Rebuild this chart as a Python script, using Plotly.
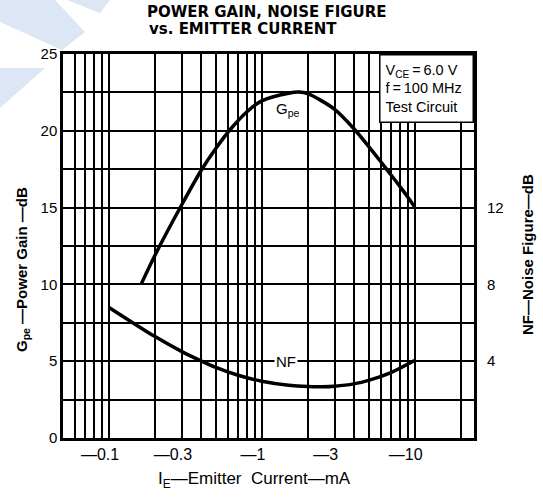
import math
import plotly.graph_objects as go

NEGRO = "#000000"
AZUL_PALIDO = "#DCE6F5"
FUENTE = "Liberation Sans, Arial, sans-serif"
FUENTE_ANCHA = "DejaVu Sans, Verdana, sans-serif"

# Power gain curve (Gpe, dB) vs |IE| (mA)
ie_gpe = [0.163, 0.2, 0.3, 0.4, 0.5, 0.63, 0.8, 1.0, 1.5, 1.75, 2, 3, 4, 5, 6, 7, 8, 9, 10]
gpe_db = [10.05, 11.9, 15.2, 17.4, 18.85, 20.15, 21.24, 21.95, 22.45, 22.52, 22.42,
          21.4, 20.15, 18.99, 18.0, 17.14, 16.39, 15.71, 15.05]

# Noise figure curve (NF, dB) vs |IE| (mA)
ie_nf = [0.1, 0.2, 0.3, 0.4, 0.5, 0.7, 1, 1.5, 2, 2.5, 3, 4, 5, 7, 10]
nf_db = [6.8, 5.28, 4.5, 4.02, 3.68, 3.27, 2.96, 2.75, 2.68, 2.67, 2.7, 2.82, 3.0, 3.41, 4.04]

# log grid positions and labels
x_grid = [0.06, 0.07, 0.08, 0.09,
          0.1, 0.2, 0.3, 0.4, 0.5, 0.6, 0.7, 0.8, 0.9,
          1, 2, 3, 4, 5, 6, 7, 8, 9, 10, 20]
PAD = "\u2007\u2007"
x_labels = {0.1: "\u20140.1" + PAD, 0.3: "\u20140.3" + PAD, 1: "\u20141" + PAD,
            3: "\u20143" + PAD, 10: "\u201410" + PAD}
y_grid = [0, 2.5, 5, 7.5, 10, 12.5, 15, 17.5, 20, 22.5, 25]
nf_ticks = [4, 8, 12]

fig = go.Figure()
fig.add_trace(go.Scatter(
    x=ie_gpe, y=gpe_db, mode="lines",
    line=dict(color=NEGRO, width=3.5, shape="spline", smoothing=0.8),
    showlegend=False,
))
fig.add_trace(go.Scatter(
    x=ie_nf, y=nf_db, mode="lines", yaxis="y2",
    line=dict(color=NEGRO, width=3.5, shape="spline", smoothing=0.8),
    showlegend=False,
))

# pixel -> paper helpers (plot frame in pixels)
L, R, T, B = 63, 474, 54, 438
def px(x, y):
    return (x - L) / (R - L), (B - y) / (B - T)

def path(pts):
    s = ""
    for i, (a, b) in enumerate(pts):
        xp, yp = px(a, b)
        s += ("M" if i == 0 else "L") + f"{xp:.4f},{yp:.4f} "
    return s + "Z"

# pale chevron watermark, top-left
for poly in ([(0, 0), (55, 0), (85, 32), (62, 50), (0, 22)],
             [(0, 68), (45, 68), (0, 108)],
             [(67, 0), (110, 0), (100, 13)]):
    fig.add_shape(type="path", path=path(poly), xref="paper", yref="paper",
                  fillcolor=AZUL_PALIDO, line=dict(width=0), layer="below")

TS = "\u2009"
fig.add_annotation(
    text=f"V<sub>CE</sub>{TS}={TS}6.0 V<br>f{TS}={TS}100 MHz<br>Test Circuit",
    xref="paper", yref="paper", x=1, y=1, xanchor="right", yanchor="top",
    width=82, height=56, showarrow=False, align="left", valign="middle",
    bgcolor="#FFFFFF", bordercolor=NEGRO, borderwidth=1.5, borderpad=5,
    font=dict(size=14.5, color=NEGRO, family=FUENTE),
)
fig.add_annotation(text="G<sub>pe</sub>", x=math.log10(1.48), y=21.4, showarrow=False,
                   bgcolor="#FFFFFF", font=dict(size=15, color=NEGRO, family=FUENTE))
fig.add_annotation(text="NF", x=math.log10(1.43), y=5, showarrow=False,
                   bgcolor="#FFFFFF", font=dict(size=15, color=NEGRO, family=FUENTE))

# second title line, left aligned with the first
x0, y0 = px(147, 29)
fig.add_annotation(text="<b>vs. EMITTER CURRENT</b>", xref="paper", yref="paper",
                   x=x0, y=y0, xanchor="left", yanchor="middle", showarrow=False,
                   font=dict(size=15, color=NEGRO, family=FUENTE_ANCHA))

# axis titles
x0, y0 = px(22, 270)
fig.add_annotation(text="<b>G<sub>pe</sub> \u2014Power Gain \u2014dB</b>", xref="paper", yref="paper",
                   x=x0, y=y0, xanchor="center", yanchor="middle", textangle=-90, showarrow=False,
                   font=dict(size=15, color=NEGRO, family=FUENTE))
x0, y0 = px(527, 255)
fig.add_annotation(text="<b>NF\u2014Noise Figure\u2014dB</b>", xref="paper", yref="paper",
                   x=x0, y=y0, xanchor="center", yanchor="middle", textangle=-90, showarrow=False,
                   font=dict(size=15, color=NEGRO, family=FUENTE))
x0, y0 = px(254, 480)
fig.add_annotation(text="I<sub>E</sub>\u2014Emitter  Current\u2014mA", xref="paper", yref="paper",
                   x=x0, y=y0, xanchor="center", yanchor="middle", showarrow=False,
                   font=dict(size=17, color=NEGRO, family=FUENTE))

fig.update_layout(
    width=543, height=499,
    margin=dict(l=L, r=543 - R, t=T, b=499 - B, autoexpand=False),
    plot_bgcolor="#FFFFFF", paper_bgcolor="#FFFFFF",
    font=dict(family=FUENTE, color=NEGRO, size=15),
    title=dict(
        text="<b>POWER GAIN, NOISE FIGURE</b>",
        x=px(147, 0)[0], xref="paper", xanchor="left", y=1 - 12 / 499, yanchor="middle",
        font=dict(size=15, color=NEGRO, family=FUENTE_ANCHA),
    ),
    xaxis=dict(
        type="log", range=[math.log10(0.05), math.log10(24.5)],
        tickvals=x_grid, ticktext=[x_labels.get(v, "") for v in x_grid],
        showgrid=True, gridcolor=NEGRO, gridwidth=1.6, automargin=False,
        showline=True, linecolor=NEGRO, linewidth=2.5, mirror=True,
        ticks="", tickfont=dict(size=16, color=NEGRO),
    ),
    yaxis=dict(
        range=[0, 25], tickvals=y_grid, automargin=False,
        ticktext=[(f"{v:g}" if v % 5 == 0 else "") for v in y_grid],
        showgrid=True, gridcolor=NEGRO, gridwidth=1.6, zeroline=False,
        showline=True, linecolor=NEGRO, linewidth=2.5, mirror=True,
        ticks="", tickfont=dict(size=15, color=NEGRO),
    ),
    yaxis2=dict(
        overlaying="y", side="right", range=[0, 20], automargin=False,
        tickvals=nf_ticks, showgrid=False, zeroline=False,
        ticks="", ticklabelstandoff=12, tickfont=dict(size=15, color=NEGRO),
    ),
)

# drop the default page margin so the figure sits at the window's corner
fig.write_html("out.html", config={"displayModeBar": False},
               post_script="document.body.style.margin='0px';")
